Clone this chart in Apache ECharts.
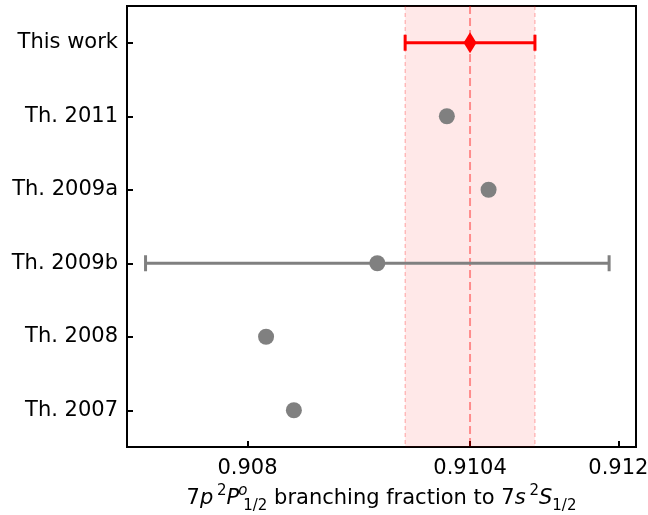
<!DOCTYPE html>
<html>
<head>
<meta charset="utf-8">
<script src="https://cdn.jsdelivr.net/npm/echarts@6/dist/echarts.min.js"></script>
<style>
  html, body { margin: 0; padding: 0; background: #fff; }
  #main { width: 648px; height: 515px; }
</style>
</head>
<body>
<div id="main"></div>
<script>
// rows, top to bottom
const labels = ["This work", "Th. 2011", "Th. 2009a", "Th. 2009b", "Th. 2008", "Th. 2007"];
const values = [0.9104, 0.91015, 0.9106, 0.9094, 0.9082, 0.9085];
const errors = [0.0007, 0, 0, 0.0025, 0, 0];
const xTicks = [0.908, 0.9104, 0.912];

const font = "DejaVu Sans";
const bandLow = values[0] - errors[0];
const bandHigh = values[0] + errors[0];

const errData = [];
const dotData = [];
labels.forEach((name, i) => {
  if (errors[i] > 0) {
    errData.push({ value: [values[i], i, errors[i]], itemStyle: { color: i === 0 ? "#ff0000" : "#808080" } });
  }
  if (i > 0) dotData.push([values[i], i]);
});

// dashed guide lines: band edges (thin) and centre (thick)
const guideData = [
  [bandLow, 1],
  [bandHigh, 1],
  [values[0], 2]
];

const chart = echarts.init(document.getElementById("main"));

const option = {
  animation: false,
  textStyle: { fontFamily: font },
  grid: {
    left: 127,
    right: 12,
    top: 6,
    bottom: 68,
    containLabel: false,
    outerBoundsMode: "none",
    show: true,
    borderColor: "#000",
    borderWidth: 2
  },
  xAxis: {
    type: "value",
    min: 0.9067,
    max: 0.91219,
    splitLine: { show: false },
    axisLine: { show: true, onZero: false, lineStyle: { color: "#000", width: 2 } },
    axisTick: {
      show: true,
      inside: true,
      length: 6,
      lineStyle: { color: "#000", width: 2 },
      customValues: xTicks
    },
    axisLabel: {
      color: "#000",
      fontSize: 21,
      fontFamily: font,
      margin: 11,
      customValues: xTicks,
      formatter: v => String(+v.toFixed(4))
    },
    name: "{n|7}{i|p} {sp|2}{i|P}{so|o}{sb|1/2}{n| branching fraction to 7}{i|s} {sp|2}{i|S}{sb|1/2}",
    nameLocation: "middle",
    nameGap: 34,
    nameTextStyle: {
      rich: {
        n: { fontSize: 21, fontFamily: font, color: "#000", lineHeight: 30 },
        i: { fontSize: 21, fontFamily: font, fontStyle: "italic", color: "#000", lineHeight: 30 },
        sp: { fontSize: 15, fontFamily: font, color: "#000", verticalAlign: "top", lineHeight: 16 },
        so: { fontSize: 15, fontFamily: font, fontStyle: "italic", color: "#000", verticalAlign: "top", lineHeight: 16, width: 1, padding: [0, 0, 0, 3] },
        sb: { fontSize: 15, fontFamily: font, color: "#000", verticalAlign: "bottom", lineHeight: 14 }
      }
    }
  },
  yAxis: {
    type: "category",
    data: labels,
    inverse: true,
    splitLine: { show: false },
    axisLine: { show: true, lineStyle: { color: "#000", width: 2 } },
    axisTick: {
      show: true,
      inside: true,
      length: 6,
      alignWithLabel: true,
      lineStyle: { color: "#000", width: 2 }
    },
    axisLabel: { color: "#000", fontSize: 21, fontFamily: font, margin: 9 }
  },
  series: [
    {
      type: "custom",
      z: 1,
      silent: true,
      data: guideData,
      encode: { x: 0 },
      renderItem: function (params, api) {
        const x = api.coord([api.value(0), 0])[0];
        const cs = params.coordSys;
        const thick = api.value(1) > 1;
        return {
          type: "line",
          shape: { x1: x, y1: cs.y, x2: x, y2: cs.y + cs.height },
          style: {
            stroke: thick ? "rgba(255,0,0,0.4)" : "rgba(255,0,0,0.35)",
            lineWidth: thick ? 2 : 1,
            lineDash: thick ? [8, 4] : [4, 3]
          }
        };
      },
      markArea: {
        silent: true,
        itemStyle: { color: "rgba(255,0,0,0.09)" },
        data: [[{ xAxis: bandLow }, { xAxis: bandHigh }]]
      }
    },
    {
      type: "custom",
      z: 3,
      data: errData,
      encode: { x: 0, y: 1 },
      renderItem: function (params, api) {
        const v = api.value(0);
        const row = api.value(1);
        const e = api.value(2);
        const lo = api.coord([v - e, row]);
        const hi = api.coord([v + e, row]);
        const color = api.visual("color");
        const st = { stroke: color, lineWidth: 3 };
        const cap = 8;
        return {
          type: "group",
          children: [
            { type: "line", shape: { x1: lo[0], y1: lo[1], x2: hi[0], y2: hi[1] }, style: st },
            { type: "line", shape: { x1: lo[0], y1: lo[1] - cap, x2: lo[0], y2: lo[1] + cap }, style: st },
            { type: "line", shape: { x1: hi[0], y1: hi[1] - cap, x2: hi[0], y2: hi[1] + cap }, style: st }
          ]
        };
      }
    },
    {
      type: "scatter",
      z: 4,
      symbol: "circle",
      symbolSize: 16,
      itemStyle: { color: "#808080", opacity: 1 },
      data: dotData
    },
    {
      type: "scatter",
      z: 4,
      symbol: "diamond",
      symbolSize: [13, 21],
      itemStyle: { color: "#ff0000", opacity: 1 },
      data: [[values[0], 0]]
    }
  ]
};

chart.setOption(option);
</script>
</body>
</html>
